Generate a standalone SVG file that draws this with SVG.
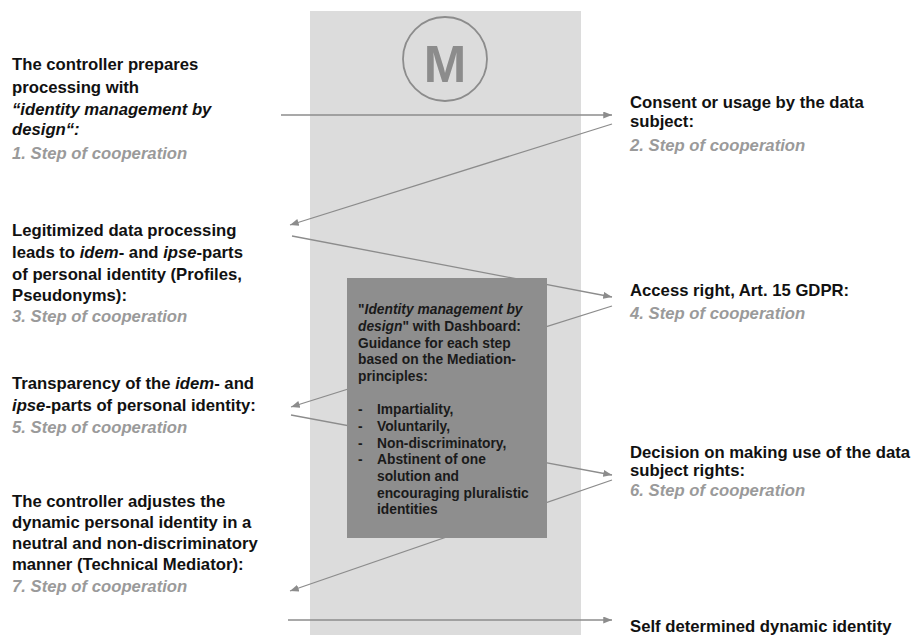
<svg xmlns="http://www.w3.org/2000/svg" width="912" height="635" viewBox="0 0 912 635">
<style>
.t{font-family:"Liberation Sans",Arial,sans-serif;font-weight:bold;font-size:16.7px;fill:#111}
.s{font-family:"Liberation Sans",Arial,sans-serif;font-weight:bold;font-style:italic;font-size:16.7px;fill:#9a9a9a}
.b{font-family:"Liberation Sans",Arial,sans-serif;font-weight:bold;font-size:13.8px;fill:#1a1a1a}
.i{font-style:italic}
.c{stroke:#8c8c8c;stroke-width:1.3;fill:none;marker-end:url(#ah)}
</style>
<defs>
<marker id="ah" viewBox="0 0 10 8" refX="10" refY="4" markerWidth="9" markerHeight="7" markerUnits="userSpaceOnUse" orient="auto">
<path d="M0,0 L10,4 L0,8 Z" fill="#8c8c8c"/>
</marker>
</defs>
<rect width="912" height="635" fill="#ffffff"/>
<g id="mediator-column">
<rect x="310" y="11" width="271" height="624" fill="#dcdcdc"/>
<circle cx="445" cy="59" r="42" fill="none" stroke="#8c8c8c" stroke-width="1.8"/>
<text x="445" y="82" text-anchor="middle" style="font-family:'Liberation Sans',Arial,sans-serif;font-weight:bold;font-size:51px;fill:#8c8c8c">M</text>
</g>
<g id="connectors">
<line class="c" x1="281" y1="115" x2="612" y2="115"/>
<line class="c" x1="612" y1="124" x2="290" y2="225"/>
<line class="c" x1="292" y1="236" x2="612" y2="297"/>
<line class="c" x1="612" y1="306" x2="291" y2="407"/>
<line class="c" x1="291" y1="415" x2="612" y2="475"/>
<line class="c" x1="612" y1="480" x2="290" y2="591"/>
<line class="c" x1="288" y1="620" x2="612" y2="620"/>
</g>
<g id="dashboard">
<rect x="347" y="278" width="200" height="260" fill="#8e8e8e"/>
<text class="b" x="358" y="314">"<tspan class="i">Identity management by</tspan></text>
<text class="b" x="358" y="331"><tspan class="i">design</tspan>" with Dashboard:</text>
<text class="b" x="358" y="348">Guidance for each step</text>
<text class="b" x="358" y="364">based on the Mediation-</text>
<text class="b" x="358" y="381">principles:</text>
<text class="b" x="358" y="414">-</text><text class="b" x="377" y="414">Impartiality,</text>
<text class="b" x="358" y="431">-</text><text class="b" x="377" y="431">Voluntarily,</text>
<text class="b" x="358" y="448">-</text><text class="b" x="377" y="448">Non-discriminatory,</text>
<text class="b" x="358" y="464">-</text><text class="b" x="377" y="464">Abstinent of one</text>
<text class="b" x="377" y="481">solution and</text>
<text class="b" x="377" y="498">encouraging pluralistic</text>
<text class="b" x="377" y="514">identities</text>
</g>
<g id="step1">
<text class="t" x="12" y="70">The controller prepares</text>
<text class="t" x="12" y="92.5">processing with</text>
<text class="t i" x="12" y="115">“identity management by</text>
<text class="t i" x="12" y="135">design“:</text>
<text class="s" x="12" y="159">1. Step of cooperation</text>
</g>
<g id="step2">
<text class="t" x="630" y="107.5">Consent or usage by the data</text>
<text class="t" x="630" y="127">subject:</text>
<text class="s" x="630" y="151">2. Step of cooperation</text>
</g>
<g id="step3">
<text class="t" x="12" y="236">Legitimized data processing</text>
<text class="t" x="12" y="258">leads to <tspan class="i">idem</tspan>- and <tspan class="i">ipse</tspan>-parts</text>
<text class="t" x="12" y="280">of personal identity (Profiles,</text>
<text class="t" x="12" y="301">Pseudonyms):</text>
<text class="s" x="12" y="322">3. Step of cooperation</text>
</g>
<g id="step4">
<text class="t" x="630" y="296">Access right, Art. 15 GDPR:</text>
<text class="s" x="630" y="319">4. Step of cooperation</text>
</g>
<g id="step5">
<text class="t" x="12" y="389">Transparency of the <tspan class="i">idem</tspan>- and</text>
<text class="t" x="12" y="411"><tspan class="i">ipse</tspan>-parts of personal identity:</text>
<text class="s" x="12" y="433">5. Step of cooperation</text>
</g>
<g id="step6">
<text class="t" x="630" y="457.5">Decision on making use of the data</text>
<text class="t" x="630" y="476">subject rights:</text>
<text class="s" x="630" y="496">6. Step of cooperation</text>
</g>
<g id="step7">
<text class="t" x="12" y="507">The controller adjustes the</text>
<text class="t" x="12" y="528">dynamic personal identity in a</text>
<text class="t" x="12" y="549">neutral and non-discriminatory</text>
<text class="t" x="12" y="570">manner (Technical Mediator):</text>
<text class="s" x="12" y="592">7. Step of cooperation</text>
</g>
<g id="result">
<text class="t" x="630" y="632">Self determined dynamic identity</text>
</g>
</svg>
